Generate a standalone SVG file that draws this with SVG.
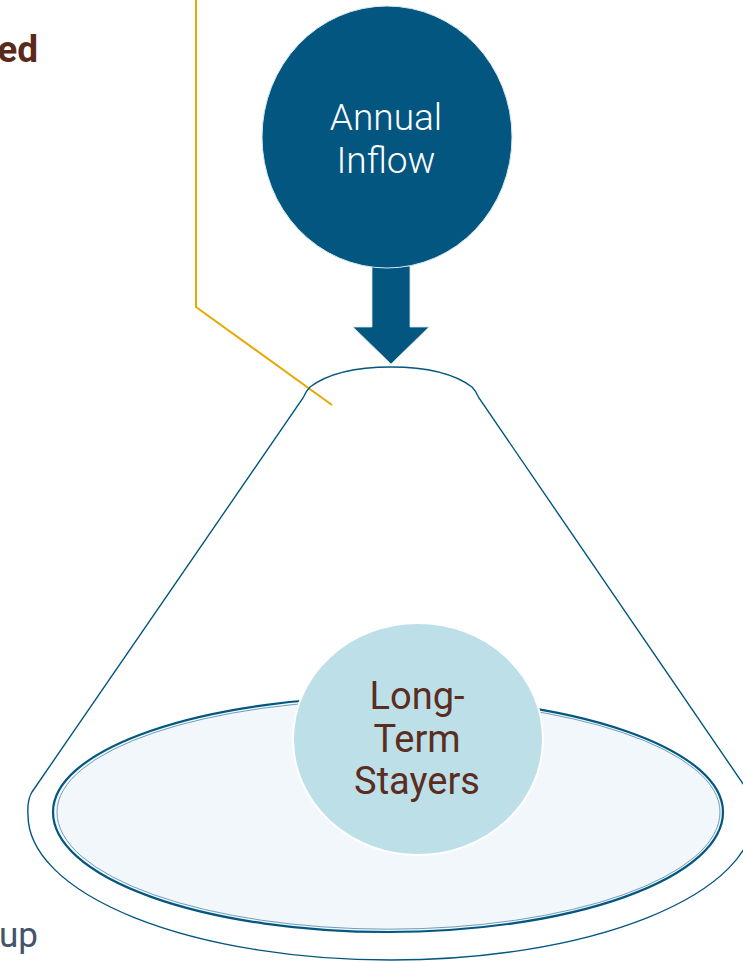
<svg xmlns="http://www.w3.org/2000/svg" width="743" height="962" viewBox="0 0 743 962">
<style>
.line{fill:none;stroke:#02567F;stroke-width:1.4}
.brown{fill:#5A2D1E}
.lbl{font-family:Roboto,"Liberation Sans",sans-serif;text-anchor:middle}
</style>
<rect width="743" height="962" fill="#ffffff"/>
<g id="connectors">
  <polyline points="196,0 196,307 332,405" fill="none" stroke="#E8A800" stroke-width="2"/>
  <path id="inflow-arrow" d="M372 266 L410 266 L410 327 L429 327 L391 364 L353 327 L372 327 Z" fill="#02567F" stroke="#D6E6EE" stroke-width="0.8"/>
</g>
<g id="funnel">
  <path class="line" d="M32 792 L303 398 Q306 391 310 387 C330 372 360 367 391 367 C422 367 452 372 472 387 Q476 391 479 398 L750 794 Q755 802 754 815 A363 145 0 0 1 28 815 Q27 800 32 792 Z"/>
</g>
<g id="pool">
  <path d="M53 812 A335 115 0 0 1 723 812 A335 120 0 0 1 53 812 Z" fill="#F1F7FA" stroke="#02567F" stroke-width="2.2"/>
  <path d="M57 812 A331 112 0 0 1 720 812 A331 117 0 0 1 57 812 Z" fill="none" stroke="#6F9FBC" stroke-width="1"/>
</g>
<g id="annual-inflow">
  <ellipse cx="387" cy="137" rx="125" ry="131" fill="#02567F" stroke="#D6E9F0" stroke-width="1"/>
  <text class="lbl" x="386" y="130" font-size="37" font-weight="300" fill="#ffffff">Annual</text>
  <text class="lbl" x="386" y="173" font-size="37" font-weight="300" fill="#ffffff">Inflow</text>
</g>
<g id="long-term-stayers">
  <ellipse cx="418" cy="739" rx="125" ry="116" fill="#BDDFE8" stroke="#ffffff" stroke-width="2"/>
  <text class="lbl brown" x="417" y="709" font-size="38">Long-</text>
  <text class="lbl brown" x="417" y="752" font-size="38">Term</text>
  <text class="lbl brown" x="417" y="794" font-size="38">Stayers</text>
</g>
<g id="edge-texts">
  <text x="38" y="62" font-family="Roboto,'Liberation Sans',sans-serif" font-size="37" font-weight="700" fill="#5A2A1A" text-anchor="end">ed</text>
  <text x="38" y="947" font-family="Roboto,'Liberation Sans',sans-serif" font-size="35" fill="#44546A" text-anchor="end">up</text>
</g>
</svg>
